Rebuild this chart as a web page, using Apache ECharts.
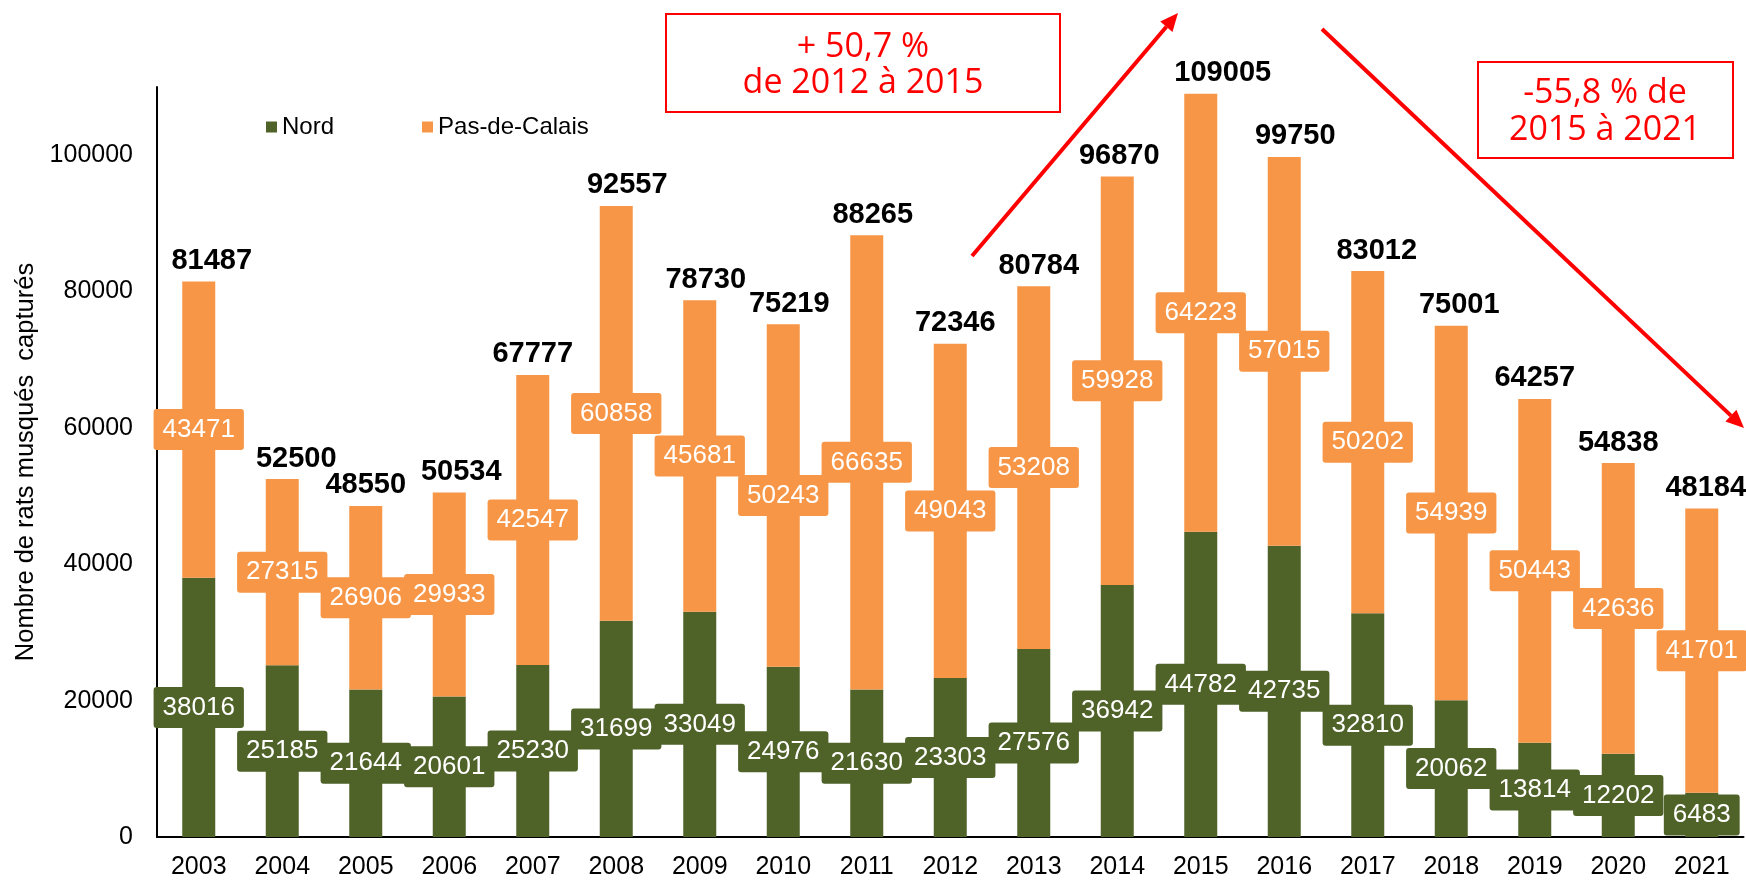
<!DOCTYPE html>
<html><head><meta charset="utf-8">
<script src="https://cdn.jsdelivr.net/npm/echarts@6/dist/echarts.min.js"></script>
<style>html,body{margin:0;padding:0;background:#fff}#c{width:1746px;height:881px}</style>
</head><body><div id="c"></div>
<script>
const years = ['2003','2004','2005','2006','2007','2008','2009','2010','2011','2012','2013','2014','2015','2016','2017','2018','2019','2020','2021'];
const nord = [38016,25185,21644,20601,25230,31699,33049,24976,21630,23303,27576,36942,44782,42735,32810,20062,13814,12202,6483];
const pasDeCalais = [43471,27315,26906,29933,42547,60858,45681,50243,66635,49043,53208,59928,64223,57015,50202,54939,50443,42636,41701];
const totals = [81487,52500,48550,50534,67777,92557,78730,75219,88265,72346,80784,96870,109005,99750,83012,75001,64257,54838,48184];
// horizontal nudges of the hand-placed total labels (px)
const totalLabelDx = [13,14,0,12,0,11,6,6,6,5,5,2,22,11,9,8,0,0,4];
const yAxisTitle = 'Nombre de rats musqués  capturés';
const note1 = '+ 50,7 %\nde 2012 à 2015';
const note2 = '-55,8 % de\n2015 à 2021';

const GREEN = '#4F6228', ORANGE = '#F79646', RED = '#FF0000';
const FONT = '"Liberation Sans", Arial, sans-serif';
const NOTE_FONT = '"Open Sans", sans-serif';

function arrow(x1, y1, x2, y2) {
  const dx = x2 - x1, dy = y2 - y1, len = Math.hypot(dx, dy);
  const ux = dx / len, uy = dy / len, px = -uy, py = ux;
  const L = 18, W = 8;
  const bx = x2 - ux * L, by = y2 - uy * L;
  return [
    { type: 'line', shape: { x1, y1, x2: bx, y2: by }, style: { stroke: RED, lineWidth: 4 } },
    { type: 'polygon', shape: { points: [[x2, y2], [bx + px * W, by + py * W], [bx - px * W, by - py * W]] }, style: { fill: RED } }
  ];
}

const chart = echarts.init(document.getElementById('c'), null, { renderer: 'canvas' });
const segLabel = (bg) => ({
  show: true, position: 'inside', color: '#fff', fontFamily: FONT, fontSize: 26,
  backgroundColor: bg, borderRadius: 3, padding: [8, 9, 7, 9]
});
chart.setOption({
  animation: false,
  textStyle: { fontFamily: FONT },
  grid: { left: 157, top: 87, width: 1586.5, bottom: 44, containLabel: false },
  legend: {
    data: ['Nord', 'Pas-de-Calais'], left: 261, top: 110, itemWidth: 11, itemHeight: 11, itemGap: 88,
    icon: 'rect', textStyle: { fontFamily: FONT, fontSize: 24, color: '#000' }
  },
  xAxis: {
    type: 'category', data: years,
    axisLine: { lineStyle: { color: '#000', width: 2 } }, axisTick: { show: false },
    axisLabel: { color: '#000', fontSize: 25, fontFamily: FONT, margin: 18 }
  },
  yAxis: {
    type: 'value', min: 0, max: 110000, interval: 20000,
    name: yAxisTitle, nameLocation: 'middle', nameRotate: 90, nameGap: 116,
    nameTextStyle: { color: '#000', fontSize: 25.5, fontFamily: FONT },
    axisLine: { show: true, lineStyle: { color: '#000', width: 2 } }, axisTick: { show: false },
    splitLine: { show: false },
    axisLabel: { color: '#000', fontSize: 25, fontFamily: FONT, margin: 24, showMaxLabel: false, formatter: (v) => String(v) }
  },
  series: [
    { name: 'Nord', type: 'bar', stack: 't', data: nord, barWidth: 33, itemStyle: { color: GREEN }, label: segLabel(GREEN) },
    { name: 'Pas-de-Calais', type: 'bar', stack: 't', data: pasDeCalais, barWidth: 33, itemStyle: { color: ORANGE }, label: segLabel(ORANGE) },
    { name: 'Total', type: 'line', data: totals,
      symbol: 'circle', symbolSize: 2, showSymbol: true,
      itemStyle: { color: 'rgba(0,0,0,0)', borderWidth: 0 }, lineStyle: { color: 'rgba(0,0,0,0)', width: 0 }, z: 5, silent: true,
      labelLayout: (p) => ({ dx: totalLabelDx[p.dataIndex], hideOverlap: false }),
      label: { show: true, position: 'top', distance: 5, color: '#000', fontWeight: 'bold', fontSize: 29, fontFamily: FONT } }
  ],
  graphic: [
    { type: 'rect', shape: { x: 666, y: 14, width: 394, height: 98 }, style: { fill: 'none', stroke: RED, lineWidth: 2 } },
    { type: 'text', x: 863, y: 65, style: { text: note1, fill: RED, font: '34px ' + NOTE_FONT, align: 'center', verticalAlign: 'middle', lineHeight: 36 } },
    { type: 'rect', shape: { x: 1478, y: 62, width: 255, height: 96 }, style: { fill: 'none', stroke: RED, lineWidth: 2 } },
    { type: 'text', x: 1605, y: 112, style: { text: note2, fill: RED, font: '34px ' + NOTE_FONT, align: 'center', verticalAlign: 'middle', lineHeight: 37 } },
    ...arrow(972, 256, 1178, 13),
    ...arrow(1322, 29, 1744, 428)
  ]
});
</script></body></html>
